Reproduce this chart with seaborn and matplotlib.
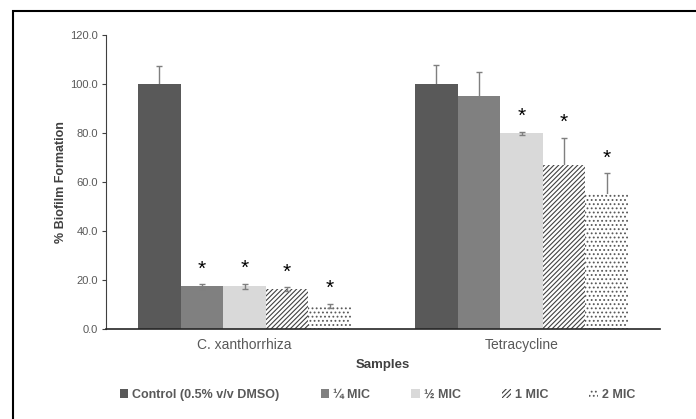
import numpy as np
import pandas as pd
import matplotlib
matplotlib.use('Agg')
import matplotlib.pyplot as plt
from matplotlib.patches import Rectangle
import seaborn as sns

# Data
samples = ['C. xanthorrhiza', 'Tetracycline']
treatments = ['Control (0.5% v/v DMSO)', '¼ MIC', '½ MIC', '1 MIC', '2 MIC']
cx_mean = [100.0, 17.4, 17.5, 16.3, 9.4]
cx_err = [7.5, 1.0, 1.0, 0.8, 1.0]
tet_mean = [100.0, 95.0, 79.8, 67.0, 55.1]
tet_err = [7.6, 9.8, 0.8, 11.1, 8.6]
cx_sig = [False, True, True, True, True]
tet_sig = [False, False, True, True, True]
y_ticks = [0, 20, 40, 60, 80, 100, 120]

bar_colors = ['#595959', '#808080', '#d9d9d9', '#ffffff', '#ffffff']
hatches = ['', '', '', '///////', '....']
hatch_colors = ['#595959', '#808080', '#d9d9d9', '#404040', '#595959']

df = pd.DataFrame({
    'Sample': np.repeat(samples, len(treatments)),
    'Treatment': treatments * len(samples),
    'Value': cx_mean + tet_mean,
    'Err': cx_err + tet_err,
    'Sig': cx_sig + tet_sig,
})

sns.set_style('white')
plt.rcParams['font.family'] = ['Liberation Sans', 'DejaVu Sans']
plt.rcParams['hatch.linewidth'] = 0.8

fig = plt.figure(figsize=(6.96, 4.19), dpi=100)
ax = fig.add_axes([106 / 696, 90 / 419, 554 / 696, 294 / 419])

sns.barplot(data=df, x='Sample', y='Value', hue='Treatment', order=samples,
            hue_order=treatments, palette=bar_colors, saturation=1,
            width=0.77, gap=0, errorbar=None, linewidth=0, ax=ax, zorder=2)

bar_conts = list(ax.containers)

# hatching + error bars + significance stars
for i, cont in enumerate(bar_conts):
    sub = df[df['Treatment'] == treatments[i]].set_index('Sample').loc[samples]
    for j, bar in enumerate(cont):
        bar.set_hatch(hatches[i])
        bar.set_edgecolor(hatch_colors[i])
        bar.set_linewidth(0)
        xc = bar.get_x() + bar.get_width() / 2
        val = sub['Value'].iloc[j]
        err = sub['Err'].iloc[j]
        ax.errorbar(xc, val, yerr=err, color='#7f7f7f', elinewidth=1,
                    capsize=2.5, capthick=1, zorder=3 if err < 2 else 1)
        if sub['Sig'].iloc[j]:
            ax.annotate('*', (xc, val + err), xytext=(0, 4),
                        textcoords='offset points', ha='center', va='bottom',
                        fontsize=15, color='black')

ax.set_xlim(-0.5, 1.5)
ax.set_ylim(0, 120)
ax.set_yticks(y_ticks)
ax.set_yticklabels([f'{t:.1f}' for t in y_ticks])
ax.tick_params(axis='y', which='both', left=True, length=3, width=0.8,
               color='#404040', labelsize=8, labelcolor='#595959', pad=3)
ax.tick_params(axis='x', bottom=False, labelsize=10, labelcolor='#595959', pad=3)

sns.despine(ax=ax)
ax.spines['left'].set_color('#404040')
ax.spines['left'].set_linewidth(0.8)
ax.spines['bottom'].set_color('#262626')
ax.spines['bottom'].set_linewidth(1.2)

ax.set_xlabel('Samples', fontsize=9.5, fontweight='bold', color='#404040', labelpad=5)
ax.set_ylabel('% Biofilm Formation', fontsize=9, fontweight='bold',
              color='#404040', labelpad=2)

handles = [cont[0] for cont in bar_conts]
leg = ax.legend(handles, treatments, loc='center', bbox_to_anchor=(0.49, -0.224),
                ncol=5, frameon=False, handlelength=0.7, handleheight=0.7,
                handletextpad=0.3, columnspacing=3.3,
                prop={'weight': 'bold', 'size': 9})
for t in leg.get_texts():
    t.set_color('#595959')

# outer chart border
fig.patches.append(Rectangle((13 / 696, -0.1), 1.2, (419 - 11) / 419 + 0.1,
                             transform=fig.transFigure, fill=False,
                             edgecolor='black', linewidth=1.5))

fig.savefig('out.png', dpi=100)
